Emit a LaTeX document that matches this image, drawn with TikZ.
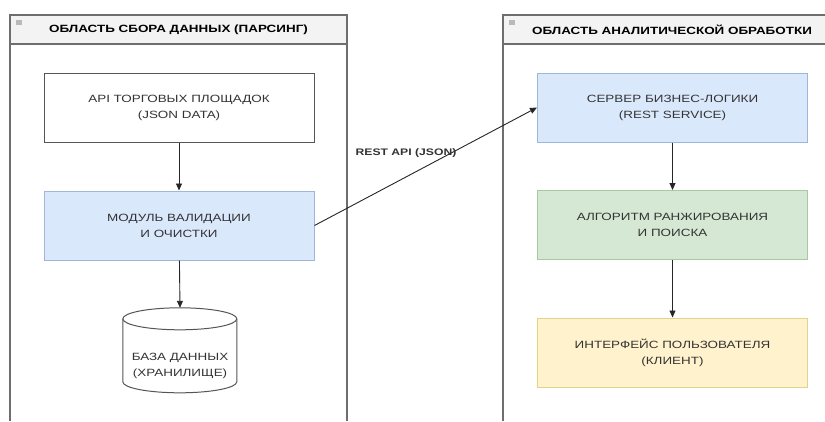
\documentclass[tikz,border=0pt]{standalone}
\usepackage{fontspec}
\setmainfont[FakeStretch=1.28]{Liberation Sans}
\usetikzlibrary{arrows.meta}
\definecolor{edgegray}{HTML}{555555}
\definecolor{contgray}{HTML}{6E6E6E}
\definecolor{headfill}{HTML}{F3F3F3}
\definecolor{bluefill}{HTML}{DAE8FC}
\definecolor{blueline}{HTML}{9FB6D8}
\definecolor{greenfill}{HTML}{D5E8D4}
\definecolor{greenline}{HTML}{A9C9A0}
\definecolor{yellowfill}{HTML}{FFF2CC}
\definecolor{yellowline}{HTML}{E0D48A}
\definecolor{txtgray}{HTML}{333333}
\tikzset{
  x=1pt, y=1pt,
  header/.style={draw=contgray, line width=1.4pt, fill=headfill, minimum height=29pt,
    font=\bfseries\fontsize{10.5}{12}\selectfont, text=black, inner sep=0pt},
  contline/.style={draw=contgray, line width=1.4pt},
  procbox/.style={draw=edgegray, line width=1pt, minimum width=270pt, minimum height=69pt,
    align=center, font=\fontsize{10.5}{16}\selectfont, text=txtgray, inner sep=0pt},
  flow/.style={draw=black!85, line width=0.9pt, -{Triangle[width=6pt,length=7pt]}},
  lbl/.style={font=\bfseries\fontsize{9.5}{11}\selectfont, text=txtgray, inner sep=0pt}
}
\begin{document}
\begin{tikzpicture}
\useasboundingbox[fill=white] (0,0) rectangle (825,-421);
% containers
\draw[contline] (10,-421) -- (10,-15) -- (347,-15) -- (347,-421);
\draw[contline] (503,-421) -- (503,-15) -- (830,-15) -- (830,-421);
\node[header, minimum width=337pt] (h1) at (178.5,-29.5) {ОБЛАСТЬ СБОРА ДАННЫХ (ПАРСИНГ)};
\node[header, minimum width=327pt] (h2) at (666.5,-29.5) {\hspace*{11pt}ОБЛАСТЬ АНАЛИТИЧЕСКОЙ ОБРАБОТКИ};
\fill[gray!55] (16,-20) rectangle (22,-24.5);
\fill[gray!55] (509,-20) rectangle (515,-24.5);
% left boxes
\node[procbox, fill=white] (api) at (179,-107.5) {API ТОРГОВЫХ ПЛОЩАДОК\\(JSON DATA)};
\node[procbox, fill=bluefill, draw=blueline] (mod) at (179,-225.5) {МОДУЛЬ ВАЛИДАЦИИ\\И ОЧИСТКИ};
\node[minimum width=114pt, minimum height=85pt, inner sep=0pt] (db) at (180,-350.5) {};
\draw[edgegray, line width=1pt, fill=white] (db.north west) ++(0,-11) -- ++(0,-63)
  arc[start angle=180, end angle=360, x radius=57, y radius=11] -- ++(0,63)
  arc[start angle=0, end angle=180, x radius=57, y radius=11] -- cycle;
\draw[edgegray, line width=1pt] (db.north west) ++(0,-11)
  arc[start angle=180, end angle=360, x radius=57, y radius=11];
\node[align=center, font=\fontsize{10.5}{16}\selectfont, text=txtgray] (dbt) at (180,-365.5) {БАЗА ДАННЫХ\\(ХРАНИЛИЩЕ)};
% right boxes
\node[procbox, fill=bluefill, draw=blueline] (srv) at (672.5,-107.5) {СЕРВЕР БИЗНЕС-ЛОГИКИ\\(REST SERVICE)};
\node[procbox, fill=greenfill, draw=greenline] (alg) at (672.5,-225) {АЛГОРИТМ РАНЖИРОВАНИЯ\\И ПОИСКА};
\node[procbox, fill=yellowfill, draw=yellowline] (ui) at (672.5,-352.5) {ИНТЕРФЕЙС ПОЛЬЗОВАТЕЛЯ\\(КЛИЕНТ)};
% connectors
\draw[flow] (api) -- (mod);
\draw[flow] (mod) -- (db.north);
\draw[flow] (srv) -- (alg);
\draw[flow] (alg) -- (ui);
\draw[flow] (mod.east) -- (srv.west);
\node[lbl] (rest) at (406,-153) {REST API (JSON)};
\end{tikzpicture}
\end{document}
